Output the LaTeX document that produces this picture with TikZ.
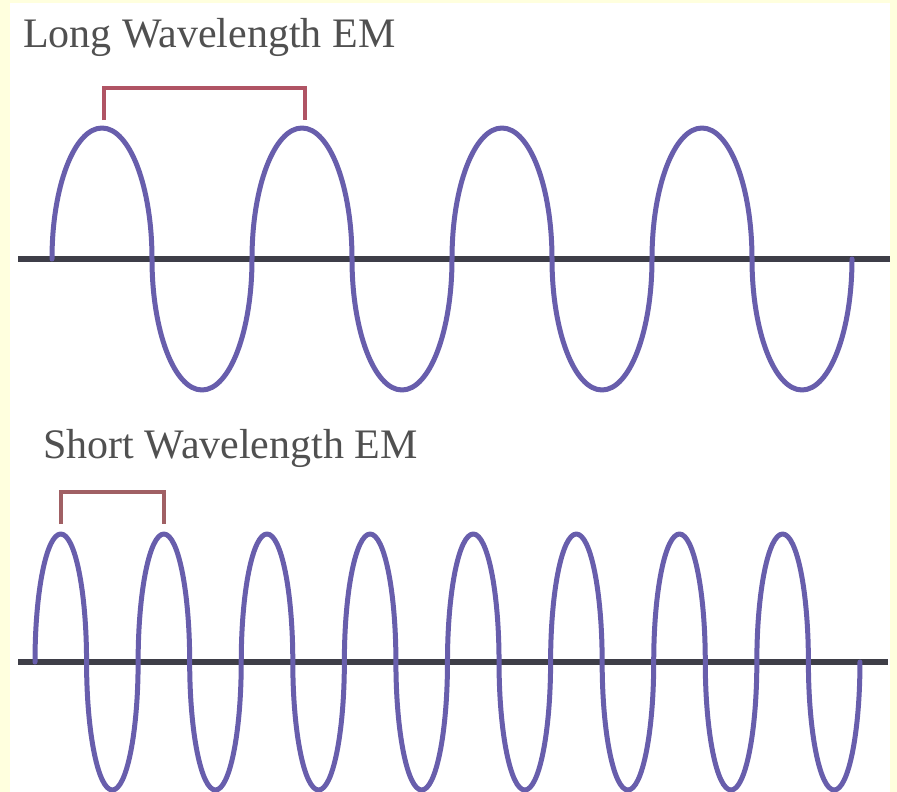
\documentclass[tikz,border=0pt]{standalone}
\usepackage{fontspec}
\setmainfont{Liberation Serif}
\definecolor{pageyellow}{RGB}{255,255,222}
\definecolor{wave}{RGB}{104,94,172}
\definecolor{axisc}{RGB}{62,62,72}
\definecolor{bracketc}{RGB}{176,84,100}
\definecolor{bracketb}{RGB}{160,96,100}
\definecolor{labelc}{RGB}{80,80,80}
\begin{document}
\begin{tikzpicture}[x=1pt,y=-1pt,
  wavestyle/.style={draw=wave,line width=5pt,line join=round,line cap=round},
  axisstyle/.style={draw=axisc,line width=6pt},
  bracketstyle/.style={line width=4.5pt,line join=miter},
  labelstyle/.style={anchor=base west,inner sep=0pt,text=labelc,font=\fontsize{42}{44}\selectfont}]
\useasboundingbox (0,0) rectangle (897,792);
\fill[pageyellow] (0,0) rectangle (897,792);
\fill[white] (10,3) rectangle (890,792);

% labels
\node[labelstyle] (longlabel) at (23,48) {Long Wavelength EM};
\node[labelstyle] (shortlabel) at (43,458) {Short Wavelength EM};

% long wave
\coordinate (la1) at (18,259);
\coordinate (la2) at (890,259);
\draw[axisstyle] (la1) -- (la2);
\coordinate (lw0) at (52,259);
\draw[wavestyle] (lw0) \foreach \i in {1,...,4} {
  arc[start angle=180,end angle=360,x radius=50,y radius=131]
  arc[start angle=180,end angle=0,x radius=50,y radius=131]};
\coordinate (lb1) at (104,120);
\coordinate (lb2) at (305,120);
\draw[bracketstyle,draw=bracketc] (lb1) -- ++(0,-32) -| (lb2);

% short wave
\coordinate (sa1) at (18,662);
\coordinate (sa2) at (888,662);
\draw[axisstyle] (sa1) -- (sa2);
\coordinate (sw0) at (35,662);
\draw[wavestyle] (sw0) \foreach \i in {1,...,8} {
  arc[start angle=180,end angle=360,x radius=25.78,y radius=128]
  arc[start angle=180,end angle=0,x radius=25.78,y radius=128]};
\coordinate (sb1) at (61,524);
\coordinate (sb2) at (164,524);
\draw[bracketstyle,draw=bracketb] (sb1) -- ++(0,-32) -| (sb2);
\end{tikzpicture}
\end{document}
